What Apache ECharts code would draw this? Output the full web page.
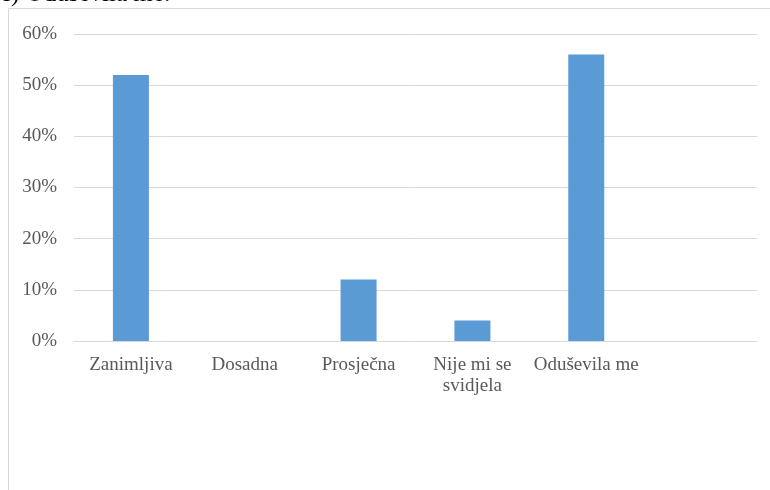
<!DOCTYPE html>
<html>
<head>
<meta charset="utf-8">
<script src="https://cdn.jsdelivr.net/npm/echarts@6/dist/echarts.min.js"></script>
<style>
html,body{margin:0;padding:0;background:#fff;}
#c{width:770px;height:490px;}
</style>
</head>
<body>
<div id="c"></div>
<script>
var titleText = 'c) Oduševila me:';
var categories = ['Zanimljiva', 'Dosadna', 'Prosječna', 'Nije mi se\nsvidjela', 'Oduševila me', ''];
var values = [52, 0, 12, 4, 56, null];
var yTicks = [0, 10, 20, 30, 40, 50, 60];

var chart = echarts.init(document.getElementById('c'), null, {renderer: 'canvas'});
var font = '"Liberation Serif", "Times New Roman", serif';
chart.setOption({
  animation: false,
  backgroundColor: '#ffffff',
  graphic: [
    {type: 'text', style: {x: 0, y: 6.5, text: titleText, font: '25px ' + font, fill: '#000000', verticalAlign: 'bottom', align: 'left'}},
    {type: 'line', shape: {x1: 8.5, y1: 8.5, x2: 770, y2: 8.5}, style: {stroke: '#d9d9d9', lineWidth: 1}},
    {type: 'line', shape: {x1: 8.5, y1: 8.5, x2: 8.5, y2: 490}, style: {stroke: '#d9d9d9', lineWidth: 1}}
  ],
  grid: {left: 74, right: 13, top: 34, bottom: 149, containLabel: false},
  xAxis: {
    type: 'category',
    data: categories,
    axisTick: {show: false},
    axisLine: {lineStyle: {color: '#d9d9d9', width: 1}},
    axisLabel: {color: '#595959', fontFamily: font, fontSize: 19, margin: 14, lineHeight: 21, interval: 0}
  },
  yAxis: {
    type: 'value',
    min: yTicks[0],
    max: yTicks[yTicks.length - 1],
    interval: 10,
    axisLine: {show: false},
    axisTick: {show: false},
    splitLine: {lineStyle: {color: '#d9d9d9', width: 1}},
    axisLabel: {color: '#595959', fontFamily: font, fontSize: 19, margin: 17, formatter: function (v) { return v + '%'; }}
  },
  series: [{
    type: 'bar',
    data: values,
    barWidth: 36,
    itemStyle: {color: '#5b9bd5'}
  }]
});
</script>
</body>
</html>
